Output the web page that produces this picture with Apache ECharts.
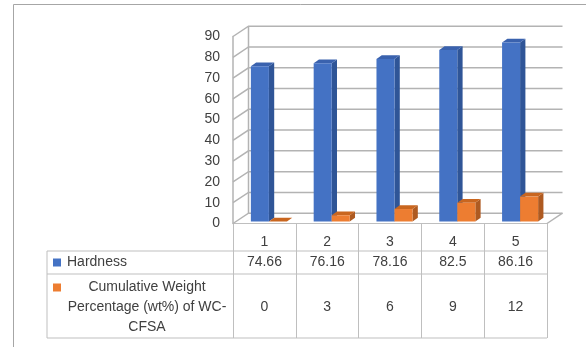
<!DOCTYPE html>
<html>
<head>
<meta charset="utf-8">
<script src="https://cdn.jsdelivr.net/npm/echarts@6/dist/echarts.min.js"></script>
<style>
  html, body { margin: 0; padding: 0; background: #fff; }
  #chart { width: 586px; height: 347px; }
</style>
</head>
<body>
<div id="chart"></div>
<script>
// Sample data
const categories = ['1', '2', '3', '4', '5'];
const hardness = [74.66, 76.16, 78.16, 82.5, 86.16];
const weightPct = [0, 3, 6, 9, 12];
const yTicks = [0, 10, 20, 30, 40, 50, 60, 70, 80, 90];
const hardnessName = 'Hardness';
const weightNameLines = ['Cumulative Weight', 'Percentage (wt%) of WC-', 'CFSA'];

// Pseudo-3D geometry (pixels)
const WALL_DX = 15.5, WALL_DY = -10.3;   // depth of the back wall
const BAR_DX = 4.5, BAR_DY = -2;         // bar plane offset from the front
const BAR_DEPTH_X = 5.3, BAR_DEPTH_Y = -3.8;
const BAR_RATIO = 0.287;

const FONT = 'Liberation Sans';
const TEXT = '#404040';
const LINE = '#BFBFBF';
const GRID_LINE = '#B3B3B3';

const COLORS = {
  blue:   { front: '#4472C4', side: '#2F5597', top: '#3A62AE' },
  orange: { front: '#ED7D31', side: '#AE5A21', top: '#C9661F' }
};

const chart = echarts.init(document.getElementById('chart'), null, { renderer: 'canvas' });

function wallItem(params, api) {
  const cs = params.coordSys;
  const v = api.value(0);
  const y = api.coord([0, v])[1];
  const x0 = cs.x, x1 = cs.x + cs.width;
  const children = [{
    type: 'polyline',
    shape: { points: [[x0, y], [x0 + WALL_DX, y + WALL_DY], [x1 + WALL_DX, y + WALL_DY]] },
    style: { stroke: GRID_LINE, lineWidth: 1.5, fill: null }
  }];
  if (params.dataIndex === 0) {
    const yTop = api.coord([0, yTicks[yTicks.length - 1]])[1];
    children.push({
      type: 'line',
      shape: { x1: x0 + WALL_DX, y1: y + WALL_DY, x2: x0 + WALL_DX, y2: yTop + WALL_DY },
      style: { stroke: GRID_LINE, lineWidth: 1.5 }
    });
    children.push({
      type: 'line',
      shape: { x1: x1, y1: y, x2: x1 + WALL_DX, y2: y + WALL_DY },
      style: { stroke: GRID_LINE, lineWidth: 1.5 }
    });
  }
  return { type: 'group', children: children };
}

function makeBarItem(palette, side) {
  return function (params, api) {
    const idx = api.value(0);
    const val = api.value(1);
    const band = api.size([1, 0])[0];
    const w = band * BAR_RATIO;
    const cx = api.coord([idx, 0])[0] + BAR_DX;
    const yb = api.coord([idx, 0])[1] + BAR_DY;
    const yt = api.coord([idx, val])[1] + BAR_DY;
    const xl = side < 0 ? cx - w : cx;
    const xr = xl + w;
    const dx = BAR_DEPTH_X, dy = BAR_DEPTH_Y;
    return {
      type: 'group',
      children: [
        { type: 'polygon', shape: { points: [[xr, yt], [xr + dx, yt + dy], [xr + dx, yb + dy], [xr, yb]] },
          style: { fill: palette.side } },
        { type: 'polygon', shape: { points: [[xl, yt], [xl + dx, yt + dy], [xr + dx, yt + dy], [xr, yt]] },
          style: { fill: palette.top } },
        { type: 'rect', shape: { x: xl, y: yt, width: w, height: yb - yt },
          style: { fill: palette.front } }
      ]
    };
  };
}

function txt(text, x, y, align) {
  return {
    type: 'text',
    style: {
      text: text, x: x, y: y,
      textAlign: align || 'center', textVerticalAlign: 'middle',
      align: align || 'center', verticalAlign: 'middle',
      font: '14px "' + FONT + '"', fill: TEXT
    }
  };
}

// Data table under the plot: value cells per category, plus row lines and row headers
const TABLE_LEFT = 47;
const ROW_LINES = [27.5, 50.5, 114.5];  // offsets below the floor edge
function tableItem(params, api) {
  const cs = params.coordSys;
  const idx = api.value(0);
  const base = api.coord([idx, 0])[1];
  const x = api.coord([idx, 0])[0];
  const children = [
    txt(String(api.value(1)), x, base + 39),
    txt(String(api.value(2)), x, base + 83.5)
  ];
  if (params.dataIndex === 0) {
    const xr = cs.x + cs.width;
    ROW_LINES.forEach(function (off) {
      children.push({ type: 'line', shape: { x1: TABLE_LEFT, y1: base + off, x2: xr, y2: base + off },
        style: { stroke: LINE, lineWidth: 1 } });
    });
    children.push({ type: 'line',
      shape: { x1: TABLE_LEFT, y1: base + ROW_LINES[0], x2: TABLE_LEFT, y2: base + ROW_LINES[2] },
      style: { stroke: LINE, lineWidth: 1 } });
    // row headers with colour keys
    children.push({ type: 'rect', shape: { x: 53, y: base + 35, width: 8, height: 8 },
      style: { fill: COLORS.blue.front } });
    children.push(txt(hardnessName, 67, base + 39, 'left'));
    children.push({ type: 'rect', shape: { x: 53, y: base + 60, width: 8, height: 8 },
      style: { fill: COLORS.orange.front } });
    weightNameLines.forEach(function (line, i) {
      children.push(txt(line, 147, base + 63.5 + i * 20));
    });
  }
  return { type: 'group', children: children };
}

const option = {
  animation: false,
  backgroundColor: '#ffffff',
  grid: { left: 233, right: 39, top: 36.5, bottom: 123.5, containLabel: false },
  xAxis: {
    type: 'category',
    data: categories,
    boundaryGap: true,
    axisLine: { show: true, lineStyle: { color: LINE, width: 1 } },
    axisTick: { show: true, length: 114.5, lineStyle: { color: LINE, width: 1 } },
    axisLabel: { color: TEXT, fontFamily: FONT, fontSize: 14, margin: 12 },
    splitLine: { show: false }
  },
  yAxis: {
    type: 'value',
    min: 0, max: 90, interval: 10,
    axisLine: { show: true, lineStyle: { color: GRID_LINE, width: 1.5 } },
    axisTick: { show: false },
    axisLabel: { color: TEXT, fontFamily: FONT, fontSize: 14, margin: 13 },
    splitLine: { show: false }
  },
  graphic: [{
    type: 'rect',
    shape: { x: 13.5, y: 4.5, width: 700, height: 500 },
    style: { fill: null, stroke: '#A6A6A6', lineWidth: 1 },
    silent: true, z: 100
  }],
  series: [
    {
      type: 'custom', name: 'walls',
      renderItem: wallItem,
      data: yTicks.map(function (t) { return [t]; }),
      encode: { y: 0 }, z: 1, silent: true
    },
    {
      type: 'custom', name: hardnessName,
      renderItem: makeBarItem(COLORS.blue, -1),
      data: hardness.map(function (v, i) { return [i, v]; }),
      encode: { x: 0, y: 1 }, z: 3
    },
    {
      type: 'custom', name: weightNameLines.join(' '),
      renderItem: makeBarItem(COLORS.orange, 1),
      data: weightPct.map(function (v, i) { return [i, v]; }),
      encode: { x: 0, y: 1 }, z: 4
    },
    {
      type: 'custom', name: 'table',
      renderItem: tableItem,
      data: categories.map(function (c, i) { return [i, hardness[i], weightPct[i]]; }),
      encode: { x: 0 }, z: 5, silent: true
    }
  ]
};

chart.setOption(option);
</script>
</body>
</html>
